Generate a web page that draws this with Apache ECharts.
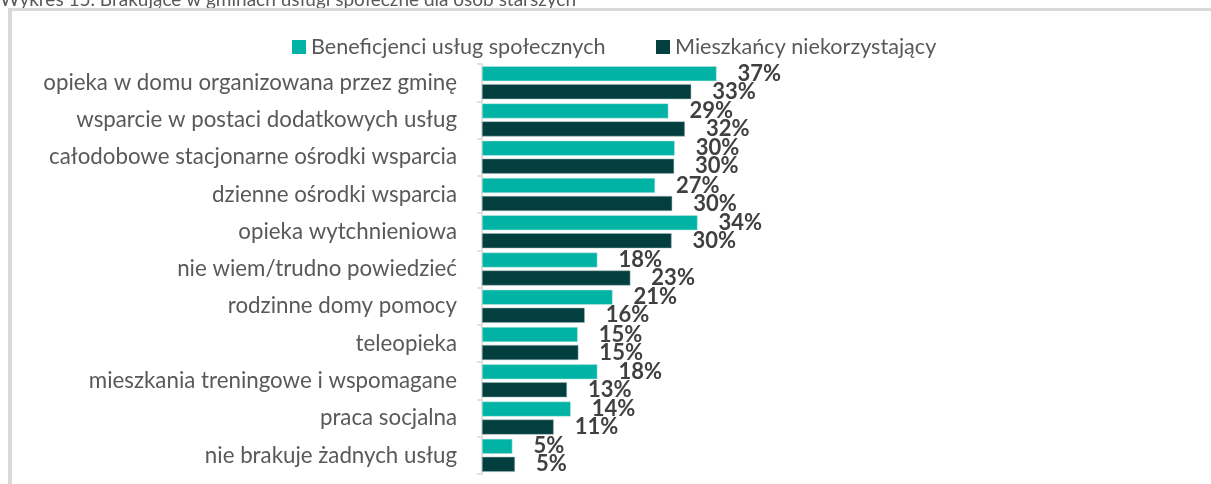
<!DOCTYPE html>
<html>
<head>
<meta charset="utf-8">
<script src="https://cdn.jsdelivr.net/npm/echarts@6/dist/echarts.min.js"></script>
<style>
html,body{margin:0;padding:0;background:#fff;}
#chart{width:1211px;height:484px;}
</style>
</head>
<body>
<div id="chart"></div>
<script>
var categories = [
  'opieka w domu organizowana przez gminę',
  'wsparcie w postaci dodatkowych usług',
  'całodobowe stacjonarne ośrodki wsparcia',
  'dzienne ośrodki wsparcia',
  'opieka wytchnieniowa',
  'nie wiem/trudno powiedzieć',
  'rodzinne domy pomocy',
  'teleopieka',
  'mieszkania treningowe i wspomagane',
  'praca socjalna',
  'nie brakuje żadnych usług'
];
var seriesNames = ['Beneficjenci usług społecznych', 'Mieszkańcy niekorzystający'];
var beneficjenci = [37.0, 29.4, 30.4, 27.3, 34.0, 18.2, 20.6, 15.1, 18.2, 14.0, 4.8];
var niekorzystajacy = [33.0, 32.0, 30.3, 30.0, 29.9, 23.4, 16.2, 15.2, 13.4, 11.3, 5.2];
var titleText = 'Wykres 15. Brakujące w gminach usługi społeczne dla osób starszych';

var FONT = 'Lato, "Open Sans", sans-serif';
var chart = echarts.init(document.getElementById('chart'));

function labelCfg() {
  return {
    show: true,
    position: 'right',
    distance: 21,
    color: '#404040',
    fontFamily: FONT,
    fontWeight: 'bold',
    fontSize: 22,
    formatter: function (p) { return Math.round(p.value) + '%'; }
  };
}

var legendText = { color: '#595959', fontSize: 21.6, fontFamily: FONT, lineHeight: 22 };

chart.setOption({
  animation: false,
  backgroundColor: '#ffffff',
  graphic: [
    { type: 'rect', shape: { x: 8, y: 8, width: 1203, height: 3 }, style: { fill: '#d9d9d9' }, silent: true },
    { type: 'rect', shape: { x: 8, y: 8, width: 4, height: 476 }, style: { fill: '#d9d9d9' }, silent: true },
    {
      type: 'text', left: 0, top: -10, silent: true, z: -1,
      style: { text: titleText, fill: '#595959', font: '19px ' + FONT }
    }
  ],
  legend: [
    {
      data: [seriesNames[0]], left: 292, top: 36, padding: 0,
      itemWidth: 14, itemHeight: 14, icon: 'rect', itemGap: 0,
      itemStyle: { borderWidth: 0 }, textStyle: legendText
    },
    {
      data: [seriesNames[1]], left: 656, top: 36, padding: 0,
      itemWidth: 14, itemHeight: 14, icon: 'rect', itemGap: 0,
      itemStyle: { borderWidth: 0 }, textStyle: legendText
    }
  ],
  grid: { left: 482, top: 64, right: 95, bottom: 10, containLabel: false },
  xAxis: { type: 'value', min: 0, max: 100, show: false },
  yAxis: {
    type: 'category', data: categories, inverse: true,
    axisLine: { show: true, lineStyle: { color: '#d9d9d9', width: 1.5 } },
    axisTick: { show: true, length: 5, lineStyle: { color: '#d9d9d9', width: 1.5 } },
    axisLabel: { color: '#595959', fontSize: 22.3, fontFamily: FONT, margin: 25 },
    splitLine: { show: false }
  },
  series: [
    {
      name: seriesNames[0], type: 'bar', data: beneficjenci,
      barWidth: 15, barGap: '20%',
      itemStyle: { color: '#00b3a4', borderColor: '#c8ebe7', borderWidth: 0.5 },
      label: labelCfg()
    },
    {
      name: seriesNames[1], type: 'bar', data: niekorzystajacy,
      barWidth: 15, barGap: '20%',
      itemStyle: { color: '#043f3f', borderColor: '#9fb5b5', borderWidth: 0.5 },
      label: labelCfg()
    }
  ]
});
</script>
</body>
</html>
